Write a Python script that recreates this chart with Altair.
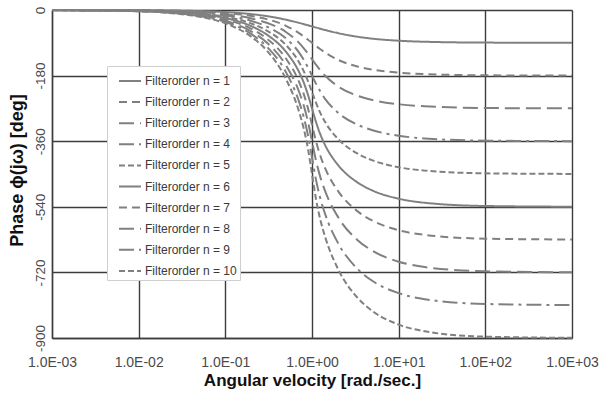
import altair as alt
import pandas as pd

# angular velocity sample points [rad/s]
omega = [0.001, 0.01, 0.05, 0.1, 0.2, 0.3, 0.5, 0.7, 0.8, 0.9, 1.0,
         1.111, 1.25, 1.429, 2.0, 3.333, 5.0, 10.0, 20.0, 100.0, 1000.0]

# phase [deg] read per filter order
phase_n1 = [-0.06, -0.57, -2.86, -5.71, -11.31, -16.70, -26.57, -34.99, -38.66, -41.99, -45.0,
            -48.01, -51.34, -55.01, -63.43, -73.30, -78.69, -84.29, -87.14, -89.43, -89.94]
phase_n2 = [-0.08, -0.81, -4.06, -8.13, -16.42, -25.00, -43.31, -62.75, -72.35, -81.51, -90.0,
            -98.49, -107.65, -117.25, -136.69, -155.00, -163.58, -171.87, -175.94, -179.19, -179.92]
phase_n3 = [-0.11, -1.15, -5.73, -11.48, -23.08, -34.95, -60.26, -88.91, -104.43, -120.07, -135.0,
            -149.93, -165.57, -181.09, -209.74, -235.05, -246.92, -258.52, -264.27, -268.85, -269.89]
phase_n4 = [-0.15, -1.50, -7.49, -15.00, -30.11, -45.51, -77.96, -114.89, -135.87, -158.06, -180.0,
            -201.94, -224.13, -245.11, -282.04, -314.49, -329.89, -345.00, -352.51, -358.50, -359.85]
phase_n5 = [-0.19, -1.85, -9.27, -18.57, -37.28, -56.30, -96.13, -141.06, -167.06, -195.70, -225.0,
            -254.30, -282.94, -308.94, -353.87, -393.70, -412.72, -431.43, -440.73, -448.15, -449.81]
phase_n6 = [-0.22, -2.21, -11.07, -22.18, -44.49, -67.17, -114.52, -167.48, -198.23, -233.08, -270.0,
            -306.92, -341.77, -372.52, -425.48, -472.83, -495.51, -517.82, -528.93, -537.79, -539.78]
phase_n7 = [-0.26, -2.58, -12.88, -25.79, -51.75, -78.11, -133.05, -194.10, -229.48, -270.32, -315.0,
            -359.68, -400.52, -435.90, -496.95, -551.89, -578.25, -604.21, -617.12, -627.42, -629.74]
phase_n8 = [-0.29, -2.94, -14.69, -29.42, -59.02, -89.07, -151.66, -220.89, -260.82, -307.45, -360.0,
            -412.55, -459.18, -499.11, -568.34, -630.93, -660.98, -690.58, -705.31, -717.06, -719.71]
phase_n9 = [-0.33, -3.30, -16.50, -33.05, -66.30, -100.06, -170.32, -247.78, -292.26, -344.51, -405.0,
            -465.49, -517.74, -562.22, -639.68, -709.94, -743.70, -776.95, -793.50, -806.70, -809.67]
phase_n10 = [-0.37, -3.66, -18.32, -36.69, -73.60, -111.06, -188.98, -274.77, -323.80, -381.55, -450.0,
             -518.45, -576.20, -625.23, -711.02, -788.94, -826.40, -863.31, -881.68, -896.34, -899.63]

series_names = ["Filterorder n = %d" % i for i in range(1, 11)]
series_values = [phase_n1, phase_n2, phase_n3, phase_n4, phase_n5,
                 phase_n6, phase_n7, phase_n8, phase_n9, phase_n10]

x_tick_values = [0.001, 0.01, 0.1, 1.0, 10.0, 100.0, 1000.0]
x_tick_labels = ["1.0E-03", "1.0E-02", "1.0E-01", "1.0E+00", "1.0E+01", "1.0E+02", "1.0E+03"]
y_tick_values = [0, -180, -360, -540, -720, -900]
y_tick_labels = ["0", "-180", "-360", "-540", "-720", "-900"]

# line styles: solid, dash, long dash, long dash dot, short dash (repeating)
dash_styles = [[1, 0], [8, 5], [15, 6], [15, 5, 3, 5], [6, 3]]
dash_range = [dash_styles[i % 5] for i in range(10)]

rows = []
for name, vals in zip(series_names, series_values):
    for w, p in zip(omega, vals):
        rows.append({"omega": w, "phase": p, "series": name})
df = pd.DataFrame(rows)


def ternary(values, labels, upward):
    expr = "'%s'" % labels[-1]
    for v, lab in reversed(list(zip(values[:-1], labels[:-1]))):
        if upward:
            expr = "datum.value < %r ? '%s' : %s" % (v * 1.5, lab, expr)
        else:
            expr = "datum.value > %r ? '%s' : %s" % (v - 90, lab, expr)
    return expr


x_label_expr = ternary(x_tick_values, x_tick_labels, True)
y_label_expr = ternary(y_tick_values, y_tick_labels, False)

grid_color = "#3c3c3c"
font = "Liberation Sans"

chart = alt.Chart(df).mark_line(
    interpolate="monotone", color="#808080", strokeWidth=2
).encode(
    x=alt.X(
        "omega:Q",
        scale=alt.Scale(type="log", domain=[0.001, 1000]),
        axis=alt.Axis(
            values=x_tick_values,
            labelExpr=x_label_expr,
            title="Angular velocity  [rad./sec.]",
            grid=True, gridColor=grid_color, gridWidth=1.4,
            domainColor=grid_color, domainWidth=1.4,
            ticks=False, labelPadding=17, labelFlush=False, labelOverlap=False,
            labelFontSize=14, labelColor="#4a4a4a", labelFont=font,
            titleFontSize=17, titleFontWeight="bold", titleColor="#111111", titleFont=font,
            titleX=260, titleY=47, titleBaseline="alphabetic", titleAnchor="middle",
        ),
    ),
    y=alt.Y(
        "phase:Q",
        scale=alt.Scale(domain=[-900, 0], nice=False, zero=False),
        axis=alt.Axis(
            values=y_tick_values,
            labelExpr=y_label_expr,
            title="Phase ϕ(jω) [deg]",
            grid=True, gridColor=grid_color, gridWidth=1.4,
            domainColor=grid_color, domainWidth=1.4,
            ticks=False, labelPadding=5, labelFlush=False, labelOverlap=False,
            labelAngle=270, labelAlign="center", labelBaseline="bottom",
            labelFontSize=13.5, labelColor="#4a4a4a", labelFont=font,
            titleFontSize=18, titleFontWeight="bold", titleColor="#111111", titleFont=font,
            titleAngle=270, titleX=-35, titleY=160, titleAlign="center", titleBaseline="middle",
        ),
    ),
    strokeDash=alt.StrokeDash(
        "series:N",
        scale=alt.Scale(domain=series_names, range=dash_range),
        sort=series_names,
        legend=alt.Legend(
            title=None, orient="none", legendX=55, legendY=56,
            padding=3, strokeColor="#cfcfcf", fillColor="white",
            symbolType="stroke", symbolSize=484, symbolStrokeWidth=2,
            symbolStrokeColor="#808080", symbolOffset=8,
            labelFontSize=12, labelFont=font, labelColor="#3a3a3a", labelOffset=3,
            rowPadding=3.1, labelLimit=200,
        ),
    ),
).properties(
    width=520, height=328,
    padding={"left": 52, "top": 10, "right": 30, "bottom": 58},
    autosize=alt.AutoSizeParams(type="none"),
).configure_view(
    stroke=grid_color, strokeWidth=1.4
).configure(background="white")

chart.save("out.html", embed_options={"renderer": "svg", "actions": False})
